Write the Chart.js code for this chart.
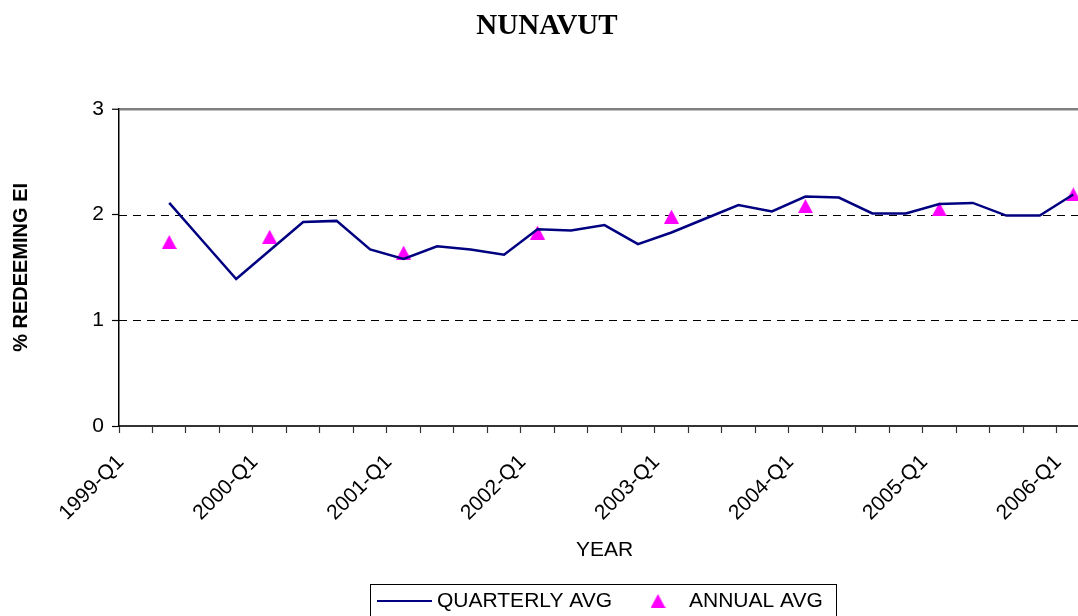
<!DOCTYPE html>
<html>
<head>
<meta charset="utf-8">
<script src="https://cdn.jsdelivr.net/npm/chart.js@4.4.1/dist/chart.umd.min.js"></script>
<style>
  html, body { margin: 0; padding: 0; background: #fff; overflow: hidden; }
  canvas { display: block; }
</style>
</head>
<body>
<canvas id="c" width="1099" height="616"></canvas>
<script>
// ---- data ----
const quarters = [
  '1999-Q1','1999-Q2','1999-Q3','1999-Q4',
  '2000-Q1','2000-Q2','2000-Q3','2000-Q4',
  '2001-Q1','2001-Q2','2001-Q3','2001-Q4',
  '2002-Q1','2002-Q2','2002-Q3','2002-Q4',
  '2003-Q1','2003-Q2','2003-Q3','2003-Q4',
  '2004-Q1','2004-Q2','2004-Q3','2004-Q4',
  '2005-Q1','2005-Q2','2005-Q3','2005-Q4',
  '2006-Q1'
];
const quarterlyAvg = [
  null, 2.11, 1.75, 1.39,
  1.66, 1.93, 1.94, 1.67,
  1.58, 1.70, 1.67, 1.62,
  1.86, 1.85, 1.90, 1.72,
  1.83, 1.96, 2.09, 2.03,
  2.17, 2.16, 2.01, 2.01,
  2.10, 2.11, 1.99, 1.99,
  2.19
];
const annualAvg = [
  null, 1.74, null, null,
  1.79, null, null, null,
  1.64, null, null, null,
  1.83, null, null, null,
  1.98, null, null, null,
  2.08, null, null, null,
  2.05, null, null, null,
  2.19
];
const yTicks = [0, 1, 2, 3];
const dashedGridValues = [1, 2];
const seriesNames = ['QUARTERLY AVG', 'ANNUAL AVG'];
const titleText = 'NUNAVUT';
const xTitle = 'YEAR';
const yTitle = '% REDEEMING EI';

// ---- styles ----
const NAVY = '#000080';
const MAGENTA = '#FF00FF';
const SANS = '"Liberation Sans", Arial, sans-serif';
const SERIF = '"Liberation Serif", "Times New Roman", serif';

function makeTriangle(w, h, color) {
  const c = document.createElement('canvas');
  c.width = w; c.height = h;
  const g = c.getContext('2d');
  g.fillStyle = color;
  g.beginPath();
  g.moveTo(w / 2, 0);
  g.lineTo(w, h);
  g.lineTo(0, h);
  g.closePath();
  g.fill();
  return c;
}
const triImg = makeTriangle(15, 14, MAGENTA);

// dashed horizontal grid lines at values from the y scale
const dashedGridPlugin = {
  id: 'dashedGrid',
  beforeDatasetsDraw(chart) {
    const ctx = chart.ctx;
    const ys = chart.scales.y;
    const area = chart.chartArea;
    ctx.save();
    ctx.strokeStyle = '#000';
    ctx.lineWidth = 1;
    ctx.setLineDash([8, 6]);
    dashedGridValues.forEach(v => {
      const py = Math.round(ys.getPixelForValue(v)) + 0.5;
      ctx.beginPath();
      ctx.moveTo(area.left, py);
      ctx.lineTo(area.right, py);
      ctx.stroke();
    });
    ctx.restore();
  }
};

const legendPlugin = {
  id: 'boxLegend',
  afterDraw(chart) {
    const ctx = chart.ctx;
    const ds = chart.data.datasets;
    ctx.save();
    ctx.strokeStyle = '#000';
    ctx.lineWidth = 1;
    ctx.strokeRect(370.5, 584.5, 466, 40);
    const cy = 601;
    ctx.strokeStyle = ds[0].borderColor;
    ctx.lineWidth = 2;
    ctx.beginPath();
    ctx.moveTo(377, cy); ctx.lineTo(432, cy);
    ctx.stroke();
    ctx.fillStyle = '#000';
    ctx.font = '21px ' + SANS;
    ctx.textBaseline = 'middle';
    ctx.textAlign = 'left';
    ctx.fillText(ds[0].label, 437, cy);
    ctx.drawImage(triImg, 658 - 7.5, cy - 7);
    ctx.fillText(ds[1].label, 689, cy);
    ctx.restore();
  }
};

new Chart(document.getElementById('c'), {
  type: 'line',
  data: {
    labels: quarters,
    datasets: [
      {
        label: seriesNames[0],
        data: quarterlyAvg,
        borderColor: NAVY,
        backgroundColor: NAVY,
        borderWidth: 2.5,
        pointRadius: 0,
        tension: 0,
        spanGaps: false
      },
      {
        label: seriesNames[1],
        data: annualAvg,
        showLine: false,
        borderColor: MAGENTA,
        backgroundColor: MAGENTA,
        pointStyle: triImg,
        pointRadius: 8
      }
    ]
  },
  options: {
    responsive: false,
    animation: false,
    layout: { padding: { left: 0, right: 5, top: 0, bottom: 0 } },
    plugins: {
      legend: { display: false },
      tooltip: { enabled: false },
      title: {
        display: true,
        text: titleText,
        color: '#000',
        font: { family: SERIF, size: 29, weight: 'bold', lineHeight: 1.2 },
        padding: { top: 9, bottom: 65 }
      }
    },
    scales: {
      x: {
        type: 'category',
        offset: true,
        afterFit(scale) {
          scale.height = 190;
          scale.paddingLeft = 0;
          scale.paddingRight = 0;
        },
        border: { display: true, color: '#333', width: 2 },
        grid: {
          offset: true,
          drawOnChartArea: false,
          drawTicks: true,
          tickLength: 7,
          tickColor: '#333',
          tickWidth: 1.2
        },
        ticks: {
          autoSkip: false,
          minRotation: 45,
          maxRotation: 45,
          color: '#000',
          font: { family: SANS, size: 21, lineHeight: 1.2 },
          padding: 17,
          labelOffset: -15,
          callback(value, index) { return index % 4 === 0 ? quarters[index] : ''; }
        },
        title: {
          display: true,
          text: xTitle,
          color: '#000',
          font: { family: SANS, size: 21, lineHeight: 1.2 },
          padding: { top: 0, bottom: 53 }
        }
      },
      y: {
        min: 0,
        max: 3,
        afterFit(scale) { scale.width = 119; },
        afterBuildTicks(scale) { scale.ticks = yTicks.map(v => ({ value: v })); },
        border: { display: true, color: '#000', width: 1.5 },
        grid: {
          drawTicks: true,
          tickLength: 7,
          tickColor: '#000',
          tickWidth: 1.2,
          color(ctx) {
            const v = ctx.tick ? ctx.tick.value : null;
            return v === 3 ? '#808080' : 'rgba(0,0,0,0)';
          },
          lineWidth(ctx) {
            const v = ctx.tick ? ctx.tick.value : null;
            return v === 3 ? 2.5 : 1;
          }
        },
        ticks: {
          color: '#000',
          font: { family: SANS, size: 21 },
          padding: 8
        },
        title: {
          display: true,
          text: yTitle,
          color: '#000',
          font: { family: SANS, size: 20, weight: 'bold', lineHeight: 1.2 },
          padding: { top: 9, bottom: 0 }
        }
      }
    }
  },
  plugins: [dashedGridPlugin, legendPlugin]
});
</script>
</body>
</html>
